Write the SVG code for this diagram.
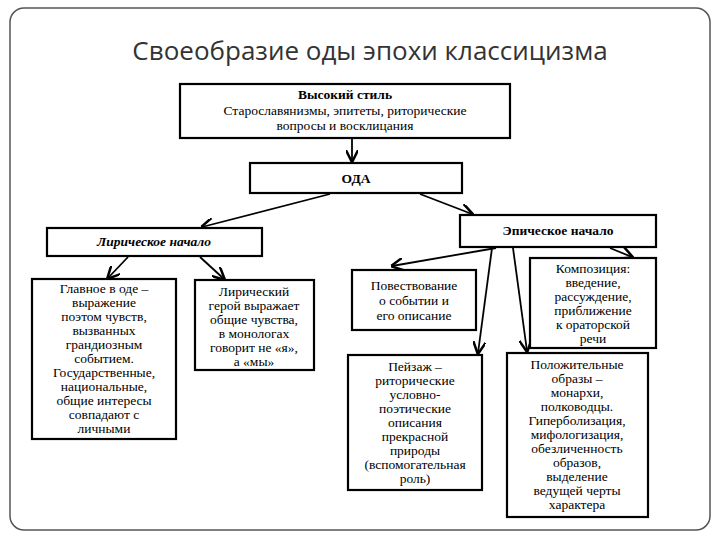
<svg xmlns="http://www.w3.org/2000/svg" width="720" height="540" viewBox="0 0 720 540">
<defs>
<style>
.b{fill:#fff;stroke:#000;stroke-width:2.2}
.t{font-family:"Liberation Serif",serif;font-size:13.5px;text-anchor:middle;fill:#000}
.bd{font-weight:bold}
.c line{stroke:#000;stroke-width:1.8;marker-end:url(#a)}
</style>
<marker id="a" viewBox="0 0 10 10" refX="9" refY="5" markerWidth="7" markerHeight="7" orient="auto"><path d="M0,0 L10,5 L0,10" fill="none" stroke="#000" stroke-width="2"/></marker>
</defs>
<rect x="0" y="0" width="720" height="540" fill="#fff"/>
<rect x="10" y="8" width="700" height="522" rx="14" fill="none" stroke="#555" stroke-width="1.5"/>
<text x="370" y="60" font-family="'Open Sans',sans-serif" font-size="26" text-anchor="middle" fill="#333">Своеобразие оды эпохи классицизма</text>
<g class="c">
<line x1="352" y1="139" x2="352" y2="161"/>
<line x1="330" y1="194" x2="202" y2="227"/>
<line x1="420" y1="194" x2="472" y2="214"/>
<line x1="128" y1="257" x2="108" y2="278"/>
<line x1="200" y1="257" x2="224" y2="279"/>
<line x1="496" y1="248" x2="392" y2="266"/>
<line x1="492" y1="248" x2="478" y2="353"/>
<line x1="513" y1="248" x2="527" y2="351"/>
<line x1="610" y1="248" x2="632" y2="257"/>
</g>
<g id="n-style"><rect class="b" x="180" y="84" width="330" height="54"/>
<text class="t"><tspan class="bd" x="345" y="99">Высокий стиль</tspan><tspan x="345" y="115">Старославянизмы, эпитеты, риторические</tspan><tspan x="345" y="130">вопросы и восклицания</tspan></text></g>
<g id="n-oda"><rect class="b" x="250" y="163" width="212" height="30"/><text class="t bd" x="356" y="183">ОДА</text></g>
<g id="n-lyric"><rect class="b" x="47" y="228" width="215" height="28"/><text class="t bd" font-style="italic" x="154" y="246">Лирическое начало</text></g>
<g id="n-epic"><rect class="b" x="460" y="215" width="196" height="32"/><text class="t bd" x="558" y="235">Эпическое начало</text></g>
<g id="n-main"><rect class="b" x="32" y="279" width="144" height="160"/>
<text class="t"><tspan x="104" y="293">Главное в оде –</tspan><tspan x="104" y="307">выражение</tspan><tspan x="104" y="321">поэтом чувств,</tspan><tspan x="104" y="335">вызванных</tspan><tspan x="104" y="349">грандиозным</tspan><tspan x="104" y="363">событием.</tspan><tspan x="104" y="377">Государственные,</tspan><tspan x="104" y="391">национальные,</tspan><tspan x="104" y="405">общие интересы</tspan><tspan x="104" y="419">совпадают с</tspan><tspan x="104" y="433">личными</tspan></text></g>
<g id="n-hero"><rect class="b" x="195" y="280" width="119" height="90"/>
<text class="t"><tspan x="254" y="296">Лирический</tspan><tspan x="254" y="310">герой выражает</tspan><tspan x="254" y="324">общие чувства,</tspan><tspan x="254" y="338">в монологах</tspan><tspan x="254" y="352">говорит не «я»,</tspan><tspan x="254" y="366">а «мы»</tspan></text></g>
<g id="n-narr"><rect class="b" x="352" y="270" width="124" height="60"/>
<text class="t"><tspan x="414" y="290">Повествование</tspan><tspan x="414" y="305">о событии и</tspan><tspan x="414" y="320">его описание</tspan></text></g>
<g id="n-comp"><rect class="b" x="530" y="258" width="126" height="90"/>
<text class="t"><tspan x="593" y="273">Композиция:</tspan><tspan x="593" y="287">введение,</tspan><tspan x="593" y="301">рассуждение,</tspan><tspan x="593" y="315">приближение</tspan><tspan x="593" y="329">к ораторской</tspan><tspan x="593" y="343">речи</tspan></text></g>
<g id="n-land"><rect class="b" x="348" y="355" width="134" height="135"/>
<text class="t"><tspan x="415" y="371">Пейзаж –</tspan><tspan x="415" y="385">риторические</tspan><tspan x="415" y="399">условно-</tspan><tspan x="415" y="413">поэтические</tspan><tspan x="415" y="427">описания</tspan><tspan x="415" y="441">прекрасной</tspan><tspan x="415" y="455">природы</tspan><tspan x="415" y="469">(вспомогательная</tspan><tspan x="415" y="483">роль)</tspan></text></g>
<g id="n-pos"><rect class="b" x="507" y="353" width="141" height="164"/>
<text class="t"><tspan x="577" y="369">Положительные</tspan><tspan x="577" y="383">образы –</tspan><tspan x="577" y="397">монархи,</tspan><tspan x="577" y="411">полководцы.</tspan><tspan x="577" y="425">Гиперболизация,</tspan><tspan x="577" y="439">мифологизация,</tspan><tspan x="577" y="453">обезличенность</tspan><tspan x="577" y="467">образов,</tspan><tspan x="577" y="481">выделение</tspan><tspan x="577" y="495">ведущей черты</tspan><tspan x="577" y="509">характера</tspan></text></g>
</svg>
